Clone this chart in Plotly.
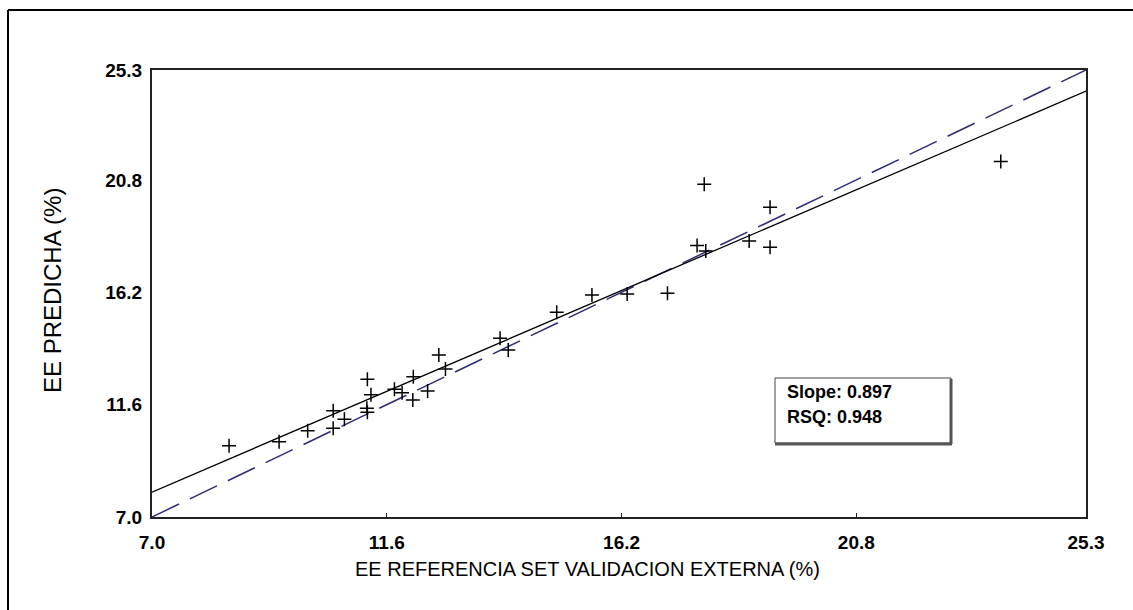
import plotly.graph_objects as go

# ---- data ----
ee_referencia = [8.51, 9.49, 10.05, 10.55, 10.55, 10.77, 11.22, 11.29, 11.21, 11.22,
                 11.75, 11.90, 12.12, 12.11, 12.40, 12.62, 12.75, 13.82, 13.98, 14.93,
                 15.62, 16.31, 17.10, 17.68, 17.85, 17.82, 18.70, 19.11, 19.11, 23.63]
ee_predicha = [9.92, 10.08, 10.53, 11.35, 10.63, 11.00, 12.64, 12.00, 11.45, 11.29,
               12.23, 12.09, 12.74, 11.79, 12.16, 13.63, 13.06, 14.32, 13.84, 15.38,
               16.09, 16.13, 16.16, 18.11, 17.89, 20.62, 18.30, 19.68, 18.04, 21.55]
fit_slope = 0.897
fit_intercept = 1.74
rsq = 0.948
axis_min, axis_max = 7.0, 25.3
tick_vals = [7.0, 11.6, 16.2, 20.8, 25.3]
tick_text = ["7.0", "11.6", "16.2", "20.8", "25.3"]

# ---- layout geometry (pixels) ----
W, H = 1133, 610
L, R, T, B = 152, 1086, 70, 517
pw, ph = R - L, B - T


def px(x):
    return (x - L) / pw


def py(y):
    return (B - y) / ph


FONT = "Liberation Sans, Arial, sans-serif"

fig = go.Figure()

# identity line (dashed blue)
fig.add_trace(go.Scatter(
    x=[axis_min, axis_max], y=[axis_min, axis_max], mode="lines",
    line=dict(color="#2b2b7a", width=1.5, dash="30px,12px"),
    hoverinfo="skip", showlegend=False))

# regression line (solid black)
fig.add_trace(go.Scatter(
    x=[axis_min, axis_max],
    y=[fit_slope * axis_min + fit_intercept, fit_slope * axis_max + fit_intercept],
    mode="lines", line=dict(color="black", width=1.3),
    hoverinfo="skip", showlegend=False))

# data points
fig.add_trace(go.Scatter(
    x=ee_referencia, y=ee_predicha, mode="markers",
    marker=dict(symbol="cross-thin", size=10, color="black",
                line=dict(color="black", width=1.5)),
    showlegend=False))

tickfont = dict(family=FONT, size=19, color="black", weight="bold")

fig.update_xaxes(range=[axis_min, axis_max], tickvals=tick_vals, ticktext=tick_text,
                 showgrid=False, zeroline=False, showline=True, linecolor="#222",
                 linewidth=2, mirror=True, ticks="inside", ticklen=4, tickcolor="#222",
                 tickfont=tickfont, ticklabelstandoff=7)
fig.update_yaxes(range=[axis_min, axis_max], tickvals=tick_vals, ticktext=tick_text,
                 showgrid=False, zeroline=False, showline=True, linecolor="#222",
                 linewidth=2, mirror=True, ticks="", tickfont=tickfont,
                 ticklabelstandoff=4)

shapes = []
# outer frame (left and top edges)
shapes.append(dict(type="line", xref="paper", yref="paper",
                   x0=px(8), y0=py(H + 5), x1=px(8), y1=py(10),
                   line=dict(color="black", width=2)))
shapes.append(dict(type="line", xref="paper", yref="paper",
                   x0=px(8), y0=py(10), x1=px(W + 5), y1=py(10),
                   line=dict(color="black", width=2)))
# stats box
shapes.append(dict(type="rect", xref="paper", yref="paper",
                   x0=px(775), y0=py(443), x1=px(951), y1=py(378),
                   line=dict(color="#444", width=1), fillcolor="white"))
shapes.append(dict(type="line", xref="paper", yref="paper",
                   x0=px(951), y0=py(379), x1=px(951), y1=py(444),
                   line=dict(color="#555", width=3)))
shapes.append(dict(type="line", xref="paper", yref="paper",
                   x0=px(775), y0=py(444), x1=px(952), y1=py(444),
                   line=dict(color="#555", width=3)))
fig.update_layout(shapes=shapes)

boxfont = dict(family=FONT, size=18, color="black", weight="bold")
annotations = [
    dict(text=f"Slope: {fit_slope:.3f}", xref="paper", yref="paper",
         x=px(785), y=py(392), xanchor="left", yanchor="middle",
         showarrow=False, font=boxfont),
    dict(text=f"RSQ: {rsq:.3f}", xref="paper", yref="paper",
         x=px(785), y=py(417), xanchor="left", yanchor="middle",
         showarrow=False, font=boxfont),
    dict(text="EE REFERENCIA SET VALIDACION EXTERNA (%)", xref="paper", yref="paper",
         x=px(587), y=py(569), xanchor="center", yanchor="middle", showarrow=False,
         font=dict(family=FONT, size=20, color="black")),
    dict(text="EE PREDICHA (%)", xref="paper", yref="paper",
         x=px(52), y=py(291), xanchor="center", yanchor="middle", showarrow=False,
         textangle=-90, font=dict(family=FONT, size=24, color="black")),
]
fig.update_layout(annotations=annotations)

fig.update_layout(
    width=W, height=H,
    margin=dict(l=L, r=W - R, t=T, b=H - B, pad=0),
    paper_bgcolor="white", plot_bgcolor="white",
    font=dict(family=FONT, color="black"),
)

fig.write_html("out.html")
